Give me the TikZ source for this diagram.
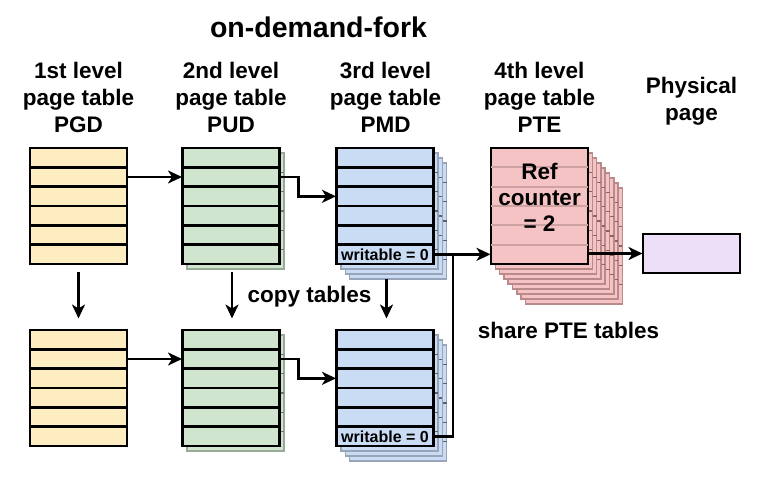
\documentclass[tikz,border=0pt]{standalone}
\usepackage{fontspec}
\setmainfont{Liberation Sans}
\usetikzlibrary{arrows.meta,calc}
\definecolor{cyel}{HTML}{FDEDC0}
\definecolor{cgrn}{HTML}{CFE5CE}
\definecolor{cblu}{HTML}{CADBF4}
\definecolor{cred}{HTML}{F5C3C3}
\definecolor{cpur}{HTML}{EEDFF8}
\definecolor{cgrnedge}{HTML}{9AAA99}
\definecolor{cbluedge}{HTML}{98A4B8}
\definecolor{credge}{HTML}{B88A8A}
\definecolor{credtick}{HTML}{8E6262}
\definecolor{credrow}{HTML}{CFA2A2}
\pgfdeclarelayer{back}
\pgfsetlayers{back,main}
\newcommand{\stackcopies}[6]{%
  \begin{pgfonlayer}{back}
  \foreach \k in {#2,...,1}{
    \draw[fill=#3, draw=#4, line width=1.5pt]
      ($(#1.north west)+(\k*#6,\k*5)$) rectangle ($(#1.south east)+(\k*#6,\k*5)$);
    \foreach \r in {1,...,5}
      \draw[draw=#5, line width=1.6pt]
        ($(#1.north west)!\r/6!(#1.south west)+(\k*#6,\k*5)$) --
        ($(#1.north east)!\r/6!(#1.south east)+(\k*#6,\k*5)$);
  }
  \end{pgfonlayer}}
\newcommand{\tablerows}[2]{%
  \foreach \r in {1,...,5}
    \draw[#2] ($(#1.north west)!\r/6!(#1.south west)$) --
              ($(#1.north east)!\r/6!(#1.south east)$);}
\begin{document}
\begin{tikzpicture}[x=1pt,y=-1pt,
  tbl/.style={draw=black, line width=2.8pt, minimum width=97pt,
    minimum height=116pt, inner sep=0pt, outer sep=0pt},
  rowline/.style={draw=black, line width=2.6pt},
  ptrow/.style={draw=credrow, line width=1.8pt},
  arr/.style={line width=2.5pt, -{Stealth[length=14pt,width=13pt,inset=4pt]}, shorten >=0.5pt},
  wire/.style={line width=2.5pt},
  head/.style={font=\fontsize{22.5}{27}\selectfont\bfseries, align=center, inner sep=0pt},
  lbl/.style={font=\fontsize{22.5}{27}\selectfont\bfseries, inner sep=0pt, anchor=base},
  small/.style={font=\fontsize{16}{18}\selectfont\bfseries, inner sep=0pt},
]
\useasboundingbox (0,0) rectangle (769,485);

% title and headings
\node[font=\fontsize{28.5}{32}\selectfont\bfseries, inner sep=0pt, anchor=base] (title) at (318.5,37) {on-demand-fork};
\node[head] (h1) at (78.5,97) {1st level\\page table\\PGD};
\node[head] (h2) at (231,97) {2nd level\\page table\\PUD};
\node[head] (h3) at (385.5,97) {3rd level\\page table\\PMD};
\node[head] (h4) at (539.5,97) {4th level\\page table\\PTE};
\node[head] (h5) at (691.5,101) {Physical\\page};

% top row
\node[tbl, fill=cyel] (pgd1) at (78.5,206) {};
\tablerows{pgd1}{rowline}
\node[tbl, fill=cgrn] (pud1) at (231,206) {};
\stackcopies{pud1}{1}{cgrn}{cgrnedge}{cgrnedge!70!black}{4.5}
\tablerows{pud1}{rowline}
\node[tbl, fill=cblu] (pmd1) at (385,206) {};
\stackcopies{pmd1}{3}{cblu}{cbluedge}{cbluedge!60!black}{4.4}
\tablerows{pmd1}{rowline}
\node[tbl, fill=cred] (pte) at (539.5,206) {};
\stackcopies{pte}{8}{cred}{credge}{credtick}{4.3}
\tablerows{pte}{ptrow}
\node[tbl, fill=cpur, minimum height=39pt] (phys) at (691.5,253.5) {};

% bottom row
\node[tbl, fill=cyel] (pgd2) at (78.5,388) {};
\tablerows{pgd2}{rowline}
\node[tbl, fill=cgrn] (pud2) at (231,388) {};
\stackcopies{pud2}{1}{cgrn}{cgrnedge}{cgrnedge!70!black}{4.5}
\tablerows{pud2}{rowline}
\node[tbl, fill=cblu] (pmd2) at (385,388) {};
\stackcopies{pmd2}{3}{cblu}{cbluedge}{cbluedge!60!black}{4.4}
\tablerows{pmd2}{rowline}

% texts inside
\node[small] (wr1) at ($(pmd1.north)!11/12!(pmd1.south)$) {writable = 0};
\node[small] (wr2) at ($(pmd2.north)!11/12!(pmd2.south)$) {writable = 0};
\node[font=\fontsize{22.5}{26}\selectfont\bfseries, align=center, inner sep=0pt] (ref) at (539.5,197) {Ref\\counter\\= 2};

\node[lbl] (copy) at (309.5,302) {copy tables};
\node[lbl] (share) at (568.5,338) {share PTE tables};

% connectors, top row
\coordinate (r1a) at ($(pgd1.north east)!1.5/6!(pgd1.south east)$);
\draw[arr] (r1a) -- (r1a -| pud1.west);
\coordinate (r1b) at ($(pud1.north east)!1.5/6!(pud1.south east)$);
\coordinate (r1c) at ($(pmd1.north west)!2.5/6!(pmd1.south west)$);
\coordinate (k1) at ($(r1b)+(19,0)$);
\draw[arr] (r1b) -- (k1) -- (k1 |- r1c) -- (r1c);

\coordinate (w1) at ($(pmd1.north east)!11/12!(pmd1.south east)$);
\coordinate (j) at (453,0);
\draw[arr] (w1) -- (pte.west |- w1);
\draw[arr] (pte.east |- phys.west) -- (phys.west);

% connectors, bottom row
\coordinate (r2a) at ($(pgd2.north east)!1.5/6!(pgd2.south east)$);
\draw[arr] (r2a) -- (r2a -| pud2.west);
\coordinate (r2b) at ($(pud2.north east)!1.5/6!(pud2.south east)$);
\coordinate (r2c) at ($(pmd2.north west)!2.5/6!(pmd2.south west)$);
\coordinate (k2) at ($(r2b)+(19,0)$);
\draw[arr] (r2b) -- (k2) -- (k2 |- r2c) -- (r2c);

\coordinate (w2) at ($(pmd2.north east)!11/12!(pmd2.south east)$);
\draw[wire] (w2) -- (w2 -| j) -- (j |- w1);

% copy arrows
\draw[arr] ($(pgd1.south)+(0,8)$) -- ($(pgd2.north)+(0,-11)$);
\draw[arr] ($(pud1.south)+(1,8)$) -- ($(pud2.north)+(1,-11)$);
\draw[arr] ($(pmd1.south)+(1.5,15)$) -- ($(pmd2.north)+(1.5,-11)$);
\end{tikzpicture}
\end{document}
